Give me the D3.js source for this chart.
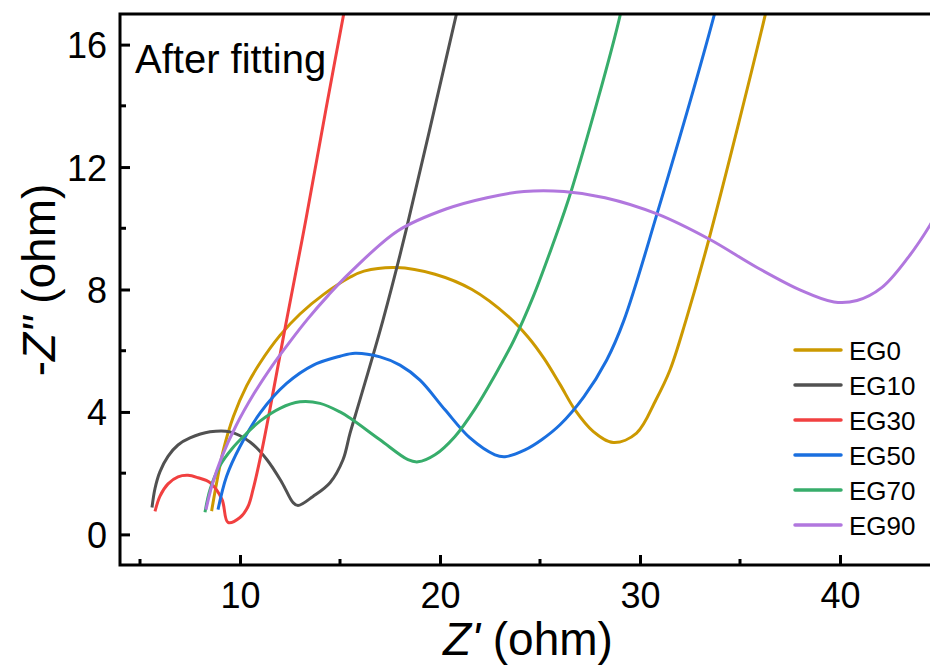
<!DOCTYPE html>
<html>
<head>
<meta charset="utf-8">
<script src="https://cdn.jsdelivr.net/npm/d3@7"></script>
<style>
  html, body { margin: 0; padding: 0; background: #fff; }
  svg text { font-family: "Liberation Sans", Arial, sans-serif; fill: #000; }
</style>
</head>
<body>
<svg id="chart" width="930" height="666"></svg>
<script>
// Nyquist curves after fitting, [Z', -Z''] in ohm
const eg0 = [[8.58, 0.76], [8.83, 1.68], [9.17, 2.76], [9.67, 3.85], [10.33, 4.85], [11.0, 5.6],
  [12.0, 6.5], [13.0, 7.2], [14.2, 7.85], [15.5, 8.4], [16.2, 8.6], [17.8, 8.72], [19.75, 8.5],
  [21.6, 8.0], [23.45, 7.1], [24.4, 6.45], [25.2, 5.75], [26.0, 4.9], [26.75, 4.07], [27.67, 3.36],
  [28.67, 3.0], [29.83, 3.31], [30.8, 4.4], [31.5, 5.37], [32.3, 7.0], [33.45, 9.65], [36.25, 16.94],
  [36.6, 18.0]]
const eg10 = [[5.6, 0.88], [5.75, 1.5], [6.0, 2.05], [6.4, 2.55], [6.9, 2.92], [7.5, 3.15], [8.5, 3.35],
  [9.5, 3.35], [10.5, 3.02], [11.35, 2.44], [12.1, 1.69], [12.65, 1.04], [12.9, 0.94], [13.65, 1.24],
  [14.5, 1.69], [15.15, 2.44], [15.5, 3.3], [16.0, 4.4], [17.15, 7.0], [18.3, 9.92], [20.8, 16.94],
  [21.2, 18.0]]
const eg30 = [[5.75, 0.75], [6.0, 1.25], [6.4, 1.65], [6.9, 1.88], [7.4, 1.93], [7.9, 1.85], [8.5, 1.69],
  [9.1, 1.14], [9.4, 0.39], [10.0, 0.55], [10.4, 0.91], [10.65, 1.46], [11.1, 2.76], [11.5, 4.1],
  [12.3, 6.9], [13.3, 10.3], [14.3, 13.9], [15.3, 17.4]]
const eg50 = [[8.9, 0.81], [9.33, 1.9], [10.0, 2.87], [11.0, 3.96], [12.33, 4.93], [13.67, 5.53],
  [15.0, 5.82], [15.75, 5.92], [17.0, 5.8], [18.0, 5.53], [19.0, 5.04], [20.25, 4.07], [21.5, 3.15],
  [22.75, 2.6], [23.25, 2.54], [24.25, 2.76], [25.1, 3.1], [26.0, 3.58], [27.2, 4.5], [28.33, 5.69],
  [29.2, 7.0], [30.85, 10.47], [33.7, 16.94], [34.1, 18.0]]
const eg70 = [[8.25, 0.72], [8.5, 1.46], [9.0, 2.25], [9.6, 2.8], [10.3, 3.28], [11.0, 3.7], [12.0, 4.12],
  [13.0, 4.33], [14.0, 4.28], [15.0, 4.0], [15.5, 3.8], [17.0, 3.09], [18.4, 2.44], [18.9, 2.37],
  [19.75, 2.6], [20.75, 3.2], [21.75, 4.1], [22.75, 5.2], [23.7, 6.35], [24.65, 7.75], [25.6, 9.4],
  [26.6, 11.3], [29.0, 16.94], [29.3, 18.0]]
const eg90 = [[8.3, 0.81], [8.6, 1.6], [9.1, 2.55], [9.8, 3.55], [10.7, 4.6], [11.6, 5.5], [12.5, 6.3],
  [13.4, 7.05], [14.4, 7.8], [15.5, 8.55], [17.9, 9.92], [20.3, 10.63], [22.35, 11.0], [24.2, 11.2],
  [26.2, 11.2], [28.25, 11.0], [30.85, 10.47], [33.45, 9.65], [35.85, 8.72], [38.05, 7.97],
  [39.7, 7.59], [40.85, 7.64], [42.1, 8.07], [43.4, 9.04], [44.5, 10.1], [45.0, 10.7]]

const seriesNames = ["EG0", "EG10", "EG30", "EG50", "EG70", "EG90"]
const seriesData = [eg0, eg10, eg30, eg50, eg70, eg90]
const seriesColors = ["#CC9900", "#515151", "#F14040", "#1A6FDF", "#37AD6B", "#B177DE"]

const xMajor = [10, 20, 30, 40]
const xMinor = [5, 15, 25, 35]
const yMajor = [0, 4, 8, 12, 16]
const yMinor = [2, 6, 10, 14]

// Plot frame
const frame = { left: 120, right: 930, top: 14, bottom: 565 }
const svg = d3.select("#chart")

const x = d3.scaleLinear().domain([4, 44.5]).range([frame.left, frame.right])
const y = d3.scaleLinear().domain([-1, 17]).range([frame.bottom, frame.top])

svg.append("defs")
    .append("clipPath")
    .attr("id", "plotClip")
    .append("rect")
    .attr("x", frame.left)
    .attr("y", frame.top)
    .attr("width", frame.right - frame.left)
    .attr("height", frame.bottom - frame.top)

// Curves
const line = d3.line()
    .x(d => x(d[0]))
    .y(d => y(d[1]))
    .curve(d3.curveCatmullRom.alpha(0.5))

svg.append("g")
    .attr("clip-path", "url(#plotClip)")
    .selectAll("path")
    .data(seriesData)
    .enter()
    .append("path")
    .attr("d", d => line(d))
    .attr("fill", "none")
    .attr("stroke", (d, i) => seriesColors[i])
    .attr("stroke-width", 3)
    .attr("stroke-linejoin", "round")

// Axes (ticks pointing inward)
const xAxis = svg.append("g").attr("transform", `translate(0,${frame.bottom})`)
xAxis.call(d3.axisBottom(x).tickValues(xMajor).tickSize(-10).tickPadding(0).tickFormat(d3.format("d")))
xAxis.selectAll(".domain").remove()
xAxis.selectAll("line").attr("stroke", "#000").attr("stroke-width", 3)
xAxis.selectAll("text")
    .attr("y", 43)
    .attr("dy", null)
    .attr("font-size", 36)
xAxis.selectAll("line.minor")
    .data(xMinor)
    .enter()
    .append("line")
    .attr("class", "minor")
    .attr("x1", d => x(d))
    .attr("x2", d => x(d))
    .attr("y1", 0)
    .attr("y2", -6)
    .attr("stroke", "#000")
    .attr("stroke-width", 3)

const yAxis = svg.append("g").attr("transform", `translate(${frame.left},0)`)
yAxis.call(d3.axisLeft(y).tickValues(yMajor).tickSize(-10).tickPadding(13).tickFormat(d3.format("d")))
yAxis.selectAll(".domain").remove()
yAxis.selectAll("line").attr("stroke", "#000").attr("stroke-width", 3)
yAxis.selectAll("text")
    .attr("x", -13)
    .attr("dy", "0.36em")
    .attr("font-size", 36)
yAxis.selectAll("line.minor")
    .data(yMinor)
    .enter()
    .append("line")
    .attr("class", "minor")
    .attr("y1", d => y(d))
    .attr("y2", d => y(d))
    .attr("x1", 0)
    .attr("x2", 6)
    .attr("stroke", "#000")
    .attr("stroke-width", 3)

// Frame lines: top, left, bottom
svg.append("path")
    .attr("d", `M${frame.right},${frame.top}H${frame.left}V${frame.bottom}H${frame.right}`)
    .attr("fill", "none")
    .attr("stroke", "#000")
    .attr("stroke-width", 3)
    .attr("stroke-linecap", "square")

// Axis titles
const xTitle = svg.append("text")
    .attr("x", 528)
    .attr("y", 655)
    .attr("text-anchor", "middle")
    .attr("font-size", 46)
xTitle.append("tspan").attr("font-style", "italic").text("Z'")
xTitle.append("tspan").text(" (ohm)")

const yTitle = svg.append("text")
    .attr("transform", "translate(55,280) rotate(-90)")
    .attr("text-anchor", "middle")
    .attr("font-size", 46)
yTitle.append("tspan").text("-")
yTitle.append("tspan").attr("font-style", "italic").text("Z\"")
yTitle.append("tspan").text(" (ohm)")

// Annotation
svg.append("text")
    .attr("x", 135)
    .attr("y", 73)
    .attr("font-size", 40)
    .text("After fitting")

// Legend
const legend = svg.append("g")
    .selectAll("g")
    .data(seriesNames)
    .enter()
    .append("g")
    .attr("transform", (d, i) => `translate(795,${350 + i * 35})`)
legend.append("line")
    .attr("x1", 0)
    .attr("x2", 46)
    .attr("stroke", (d, i) => seriesColors[i])
    .attr("stroke-width", 3.5)
    .attr("stroke-linecap", "round")
legend.append("text")
    .attr("x", 54)
    .attr("y", 9.5)
    .attr("font-size", 26)
    .text(d => d)
</script>
</body>
</html>
